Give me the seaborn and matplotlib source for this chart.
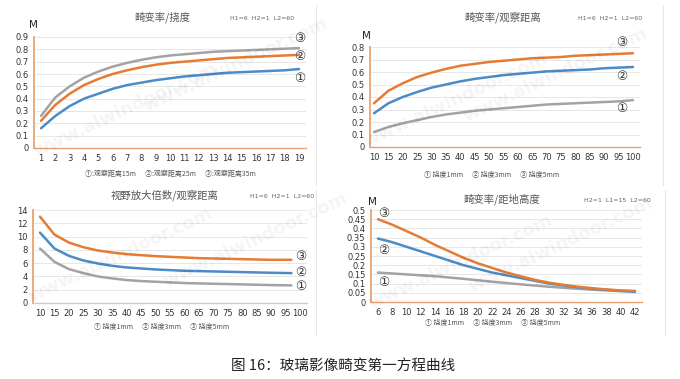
import numpy as np
import pandas as pd
import matplotlib
matplotlib.use("Agg")
import matplotlib.pyplot as plt
import seaborn as sns
from matplotlib.lines import Line2D

# ---- data ----
# panel 1: 畸变率/挠度
p1_x = list(range(1, 20))
p1_s1 = [0.16, 0.26, 0.34, 0.40, 0.44, 0.48, 0.51, 0.53, 0.55, 0.565, 0.58, 0.59, 0.60, 0.61, 0.615, 0.62, 0.625, 0.63, 0.64]
p1_s2 = [0.22, 0.35, 0.44, 0.51, 0.56, 0.60, 0.63, 0.655, 0.675, 0.69, 0.70, 0.71, 0.72, 0.73, 0.735, 0.74, 0.745, 0.75, 0.755]
p1_s3 = [0.26, 0.41, 0.50, 0.57, 0.62, 0.66, 0.69, 0.715, 0.735, 0.75, 0.76, 0.77, 0.78, 0.785, 0.79, 0.795, 0.80, 0.805, 0.81]

# panel 2: 畸变率/观察距离
p2_x = list(range(10, 101, 5))
p2_s1 = [0.12, 0.16, 0.19, 0.215, 0.24, 0.26, 0.275, 0.29, 0.30, 0.31, 0.32, 0.33, 0.34, 0.345, 0.35, 0.355, 0.36, 0.365, 0.375]
p2_s2 = [0.27, 0.35, 0.40, 0.44, 0.475, 0.50, 0.525, 0.545, 0.56, 0.575, 0.585, 0.595, 0.605, 0.61, 0.615, 0.62, 0.63, 0.635, 0.64]
p2_s3 = [0.35, 0.45, 0.51, 0.56, 0.595, 0.625, 0.65, 0.665, 0.68, 0.69, 0.70, 0.71, 0.715, 0.72, 0.73, 0.735, 0.74, 0.745, 0.75]

# panel 3: 视野放大倍数/观察距离
p3_x = [10, 15, 20, 25, 30, 35, 40, 45, 50, 55, 60, 65, 70, 75, 80, 85, 90, 97]
p3_s1 = [8.2, 6.2, 5.1, 4.5, 4.0, 3.7, 3.45, 3.3, 3.2, 3.1, 3.0, 2.95, 2.9, 2.85, 2.8, 2.75, 2.7, 2.65]
p3_s2 = [10.6, 8.2, 7.1, 6.4, 5.95, 5.6, 5.35, 5.2, 5.05, 4.95, 4.85, 4.8, 4.75, 4.7, 4.65, 4.6, 4.55, 4.5]
p3_s3 = [13.0, 10.3, 9.1, 8.4, 7.9, 7.6, 7.35, 7.2, 7.05, 6.95, 6.85, 6.75, 6.7, 6.65, 6.6, 6.55, 6.5, 6.5]
p3_ticks = list(range(10, 101, 5))

# panel 4: 畸变率/距地高度
p4_x = list(range(6, 43, 2))
p4_s1 = [0.16, 0.155, 0.15, 0.145, 0.14, 0.133, 0.126, 0.118, 0.11, 0.103, 0.096, 0.089, 0.083, 0.077, 0.072, 0.067, 0.063, 0.059, 0.055]
p4_s2 = [0.345, 0.325, 0.30, 0.275, 0.25, 0.225, 0.20, 0.18, 0.16, 0.145, 0.13, 0.115, 0.10, 0.09, 0.08, 0.072, 0.066, 0.061, 0.057]
p4_s3 = [0.45, 0.42, 0.385, 0.35, 0.31, 0.275, 0.24, 0.21, 0.185, 0.16, 0.14, 0.12, 0.105, 0.093, 0.083, 0.075, 0.068, 0.063, 0.06]

titles = ["畸变率/挠度", "畸变率/观察距离", "视野放大倍数/观察距离", "畸变率/距地高度"]
notes = ["H1=6  H2=1  L2=60", "H1=6  H2=1  L2=60", "H1=6  H2=1  L2=60", "H2=1  L1=15  L2=60"]
legends = ["①:观察距离15m      ②:观察距离25m      ③:观察距离35m",
           "① 挠度1mm      ② 挠度3mm      ③ 挠度5mm",
           "① 挠度1mm      ② 挠度3mm      ③ 挠度5mm",
           "① 挠度1mm      ② 挠度3mm      ③ 挠度5mm"]
caption = "图 16：玻璃影像畸变第一方程曲线"

BLUE = "#4a8bc8"
ORANGE = "#e57b34"
GRAY = "#a3a3a3"
SPINE = "#e8a271"

sns.set_theme(style="white")
plt.rcParams['font.family'] = ['Noto Sans CJK SC', 'DejaVu Sans']

W, H = 680, 379
fig = plt.figure(figsize=(6.8, 3.79), dpi=100)


def px(x, y):
    return x / W, 1 - y / H


def add_ax(left, top, right, bottom):
    return fig.add_axes([left / W, 1 - bottom / H, (right - left) / W, (bottom - top) / H])


def style(ax, yticks, yfmt):
    ax.set_yticks(yticks)
    ax.set_yticklabels([yfmt(v) for v in yticks], fontsize=6, color="#333333", family="DejaVu Sans")
    ax.grid(axis="y", color="#e3e3e3", linewidth=0.6)
    ax.set_axisbelow(True)
    for s in ["top", "right"]:
        ax.spines[s].set_visible(False)
    ax.spines["left"].set_color(SPINE)
    ax.spines["left"].set_linewidth(1.3)
    ax.spines["bottom"].set_color(SPINE)
    ax.spines["bottom"].set_linewidth(1.0)
    ax.tick_params(length=0, pad=4)
    ax.set_xlabel("")
    ax.set_ylabel("")
    ax.patch.set_alpha(0)


def draw(ax, x, series, colors):
    df = pd.DataFrame({"x": list(x) * 3,
                       "y": series[0] + series[1] + series[2],
                       "s": ["1"] * len(x) + ["2"] * len(x) + ["3"] * len(x)})
    sns.lineplot(data=df, x="x", y="y", hue="s", palette=colors, linewidth=1.8,
                 legend=False, ax=ax)


# panel 1 (categorical positions)
ax1 = add_ax(34, 37, 306, 148)
draw(ax1, list(range(len(p1_x))), [p1_s1, p1_s2, p1_s3], [BLUE, ORANGE, GRAY])
ax1.set_xlim(-0.49, 18.49)
ax1.set_ylim(0, 0.9)
style(ax1, np.round(np.arange(0, 0.91, 0.1), 1), lambda v: "0" if v == 0 else f"{v:g}")
ax1.set_xticks(range(len(p1_x)))
ax1.set_xticklabels([str(v) for v in p1_x], fontsize=6, color="#333333", family="DejaVu Sans")

# panel 2
ax2 = add_ax(370, 47, 640, 147)
draw(ax2, list(range(len(p2_x))), [p2_s1, p2_s2, p2_s3], [GRAY, BLUE, ORANGE])
ax2.set_xlim(-0.28, 18.49)
ax2.set_ylim(0, 0.8)
style(ax2, np.round(np.arange(0, 0.81, 0.1), 1), lambda v: "0" if v == 0 else f"{v:g}")
ax2.set_xticks(range(len(p2_x)))
ax2.set_xticklabels([str(v) for v in p2_x], fontsize=6, color="#333333", family="DejaVu Sans")

# panel 3
ax3 = add_ax(33, 210, 307, 303)
draw(ax3, p3_x, [p3_s1, p3_s2, p3_s3], [GRAY, BLUE, ORANGE])
ax3.set_xlim(7.58, 102.4)
ax3.set_ylim(0, 14)
style(ax3, list(range(0, 15, 2)), lambda v: str(v))
ax3.set_xticks(p3_ticks)
ax3.set_xticklabels([str(v) for v in p3_ticks], fontsize=6, color="#333333", family="DejaVu Sans")
ax3.spines["bottom"].set_color("#ecc3a6")

# panel 4
ax4 = add_ax(371, 210, 642, 302)
draw(ax4, p4_x, [p4_s1, p4_s2, p4_s3], [GRAY, BLUE, ORANGE])
ax4.set_xlim(5.02, 42.98)
ax4.set_ylim(0, 0.5)
style(ax4, np.round(np.arange(0, 0.51, 0.05), 2), lambda v: "0" if v == 0 else f"{v:g}")
ax4.set_xticks(p4_x)
ax4.set_xticklabels([str(v) for v in p4_x], fontsize=6, color="#333333", family="DejaVu Sans")

# titles, notes, legends
title_pos = [(162, 17), (503, 17), (165, 195), (502, 199)]
note_pos = [(262, 19), (610, 19), (282, 197), (617, 200)]
legend_pos = [(170, 174), (492, 175), (162, 327), (493, 323)]
for t, n, lg, tp, npos, lp in zip(titles, notes, legends, title_pos, note_pos, legend_pos):
    fig.text(*px(*tp), t, fontsize=7.5, color="#555555", ha="center", va="center")
    fig.text(*px(*npos), n, fontsize=4.5, color="#666666", ha="center", va="center", family="DejaVu Sans")
    fig.text(*px(*lp), lg, fontsize=5, color="#555555", ha="center", va="center")

for mx, my in [(33, 25), (366, 36), (372, 202)]:
    fig.text(*px(mx, my), "M", fontsize=7.5, color="#222222", ha="center", va="center", family="DejaVu Sans")

# circled series labels
circ = [
    [(300, 39, "③"), (300, 57, "②"), (300, 79, "①")],
    [(622, 43, "③"), (622, 76, "②"), (622, 109, "①")],
    [(301, 257, "③"), (301, 272, "②"), (301, 287, "①")],
    [(384, 213, "③"), (384, 251, "②"), (384, 282, "①")],
]
for group in circ:
    for cx, cy, lab in group:
        fig.text(*px(cx, cy), lab, fontsize=9, color="#333333", ha="center", va="center",
                 family=["DejaVu Sans"])

# chart frame edges
for xe, y0, y1 in [(316, 5, 185), (663, 5, 185), (316, 190, 335), (665, 190, 335)]:
    fig.add_artist(Line2D([xe / W, xe / W], [1 - y0 / H, 1 - y1 / H], color="#e6e6e6", linewidth=0.8))

fig.text(*px(343, 366), caption, fontsize=10.5, color="#222222", ha="center", va="center")

# watermarks
for wx, wy in [(125, 110), (235, 65), (455, 100), (555, 75), (120, 255), (255, 240), (460, 262), (560, 245)]:
    fig.text(*px(wx, wy), "www.alwindoor.com", fontsize=13, fontweight="bold", color="#000000",
             alpha=0.045, rotation=25, ha="center", va="center", family="DejaVu Sans")

fig.savefig("out.png", dpi=100, facecolor="white")
